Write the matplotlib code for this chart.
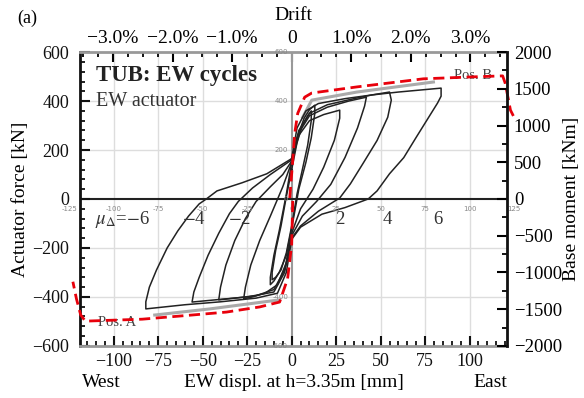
import matplotlib
matplotlib.use("Agg")
import matplotlib.pyplot as plt
from matplotlib.ticker import MultipleLocator, FuncFormatter

plt.rcParams['font.family'] = ['Liberation Serif', 'DejaVu Serif']
plt.rcParams['mathtext.fontset'] = 'stix'

# ---------------- data (displacement mm, force kN) ----------------
env_b_x = [-1.1, 0.6, 1.7, 3.4, 7.3, 11.3, 36.7, 74, 102, 118.6, 120, 123, 125]
env_b_y = [4, 157, 268, 350, 416, 433, 458, 491, 499, 503, 474, 363, 334]
env_a_x = [0.6, 0, -2.3, -6.8, -18, -36.7, -56, -84, -116, -118.6, -121, -123]
env_a_y = [-8, -186, -326, -421, -441, -462, -474, -491, -499, -474, -408, -338]

gray_b_x = [6.2, 11.3, 36.7, 79.7]
gray_b_y = [334, 404, 437, 478]
gray_a_x = [-6.8, -46, -77]
gray_a_y = [-412, -449, -474]

mu1a_x = [0, 3, 7, 10, 13, 13, 11, 8, 4, 0, -3, -7, -10, -12, -12, -10, -7, -3, 0]
mu1a_y = [150, 250, 330, 365, 383, 350, 250, 150, 40, -120, -230, -300, -335, -350, -320, -230, -130, 20, 150]
mu1b_x = [0, 3, 6, 9, 11, 11, 9, 6, 3, 0, -3, -6, -9, -11, -11, -9, -6, -3, 0]
mu1b_y = [120, 230, 300, 340, 360, 320, 220, 120, 20, -110, -220, -290, -320, -330, -300, -210, -110, 10, 120]
mu2_x = [0, 4, 10, 18, 27, 27, 24, 18, 12, 5, 0, -3, -8, -15, -22, -27, -26, -23, -18, -12, -5, 0]
mu2_y = [150, 260, 320, 345, 363, 330, 240, 130, 40, -40, -140, -260, -350, -385, -400, -408, -360, -270, -170, -70, 50, 150]
mu3_x = [0, 4, 10, 20, 32, 42, 41, 37, 30, 22, 14, 6, 0, -4, -10, -20, -32, -41, -40, -37, -32, -26, -20, -12, -5, 0]
mu3_y = [155, 270, 340, 375, 400, 416, 380, 290, 170, 60, -10, -70, -150, -290, -370, -395, -405, -412, -360, -270, -170, -80, -10, 50, 100, 155]
mu4_x = [0, 4, 10, 20, 35, 45, 55, 56, 54, 48, 40, 33, 27, 15, 5, 0, -4, -10, -25, -40, -56, -55, -52, -47, -41, -35, -30, -22, -12, 0]
mu4_y = [160, 280, 350, 385, 410, 425, 437, 404, 334, 239, 144, 62, 4, -50, -110, -160, -300, -380, -400, -410, -421, -380, -320, -230, -140, -60, -10, 45, 100, 160]
mu6_x = [0, 3, 8, 15, 30, 45, 60, 72, 84, 84, 82, 76, 70, 63, 55, 48, 43, 30, 17, 5, 0, -3, -8, -20, -40, -60, -82, -82, -80, -76, -70, -64, -58, -52, -48, -42, -28, -14, 0]
mu6_y = [165, 290, 360, 390, 410, 425, 437, 445, 453, 420, 392, 322, 252, 169, 103, 33, 0, -35, -62, -115, -165, -300, -385, -405, -420, -432, -449, -420, -360, -290, -200, -130, -70, -20, 0, 33, 66, 103, 165]

loops = [(mu1a_x, mu1a_y), (mu1b_x, mu1b_y), (mu2_x, mu2_y), (mu3_x, mu3_y),
         (mu4_x, mu4_y), (mu6_x, mu6_y)]

inner_x_ticks = [-125, -100, -75, -50, -25, 0, 25, 50, 75, 100, 125]
inner_y_labels = [600, 400, 200, 0, -400, -600]
grid_x = [-100, -75, -50, -25, 25, 50, 75, 100]
grid_y = [-400, -200, 200, 400]

bottom_ticks = [-100, -75, -50, -25, 0, 25, 50, 75, 100]
drift_ticks = [-3, -2, -1, 0, 1, 2, 3]
left_ticks = [-600, -400, -200, 0, 200, 400, 600]
right_ticks = [-2000, -1500, -1000, -500, 0, 500, 1000, 1500, 2000]
mu_labels = [(-95, '$\\mu_{\\Delta}$=$-$6'), (-55, '$-$4'), (-29, '$-$2'), (27, '2'), (54, '4'), (82, '6')]
height_mm = 3350.0

# ---------------- figure ----------------
fig = plt.figure(figsize=(5.84, 3.98), dpi=100)
ax = fig.add_axes([0.137, 0.131, 0.731, 0.738])
ax.set_xlim(-119, 121)
ax.set_ylim(-600, 600)

for gx in grid_x:
    ax.axvline(gx, color='#dddddd', lw=1.0, zorder=0)
for gy in grid_y:
    ax.axhline(gy, color='#dddddd', lw=1.0, zorder=0)
ax.axvline(0, color='#999999', lw=1.5, zorder=1)
ax.axhline(0, color='#222222', lw=1.5, zorder=1)

for lx, ly in loops:
    ax.plot(lx, ly, color='#222222', lw=1.1, zorder=3)

ax.plot(gray_b_x, gray_b_y, color='#aaaaaa', lw=2.2, zorder=2)
ax.plot(gray_a_x, gray_a_y, color='#aaaaaa', lw=2.2, zorder=2)
ax.plot(env_b_x, env_b_y, color='#e8000b', lw=2.0, ls=(0, (4, 2)), zorder=4, clip_on=False)
ax.plot(env_a_x, env_a_y, color='#e8000b', lw=2.0, ls=(0, (4, 2)), zorder=4, clip_on=False)

# inner small grey labels
for v in inner_x_ticks:
    ax.text(v, -40, str(v), fontsize=5, color='#888888', ha='center', va='center',
            family='DejaVu Sans', clip_on=False)
for v in inner_y_labels:
    ax.text(-2, v, str(v), fontsize=5, color='#888888', ha='right', va='center',
            family='DejaVu Sans', clip_on=False)

# ticks
ax.set_xticks(bottom_ticks)
ax.xaxis.set_minor_locator(MultipleLocator(5))
ax.set_yticks(left_ticks)
ax.yaxis.set_minor_locator(MultipleLocator(40))
ax.tick_params(axis='both', which='major', direction='in', length=7, width=1.5,
               labelsize=13, colors='#111111')
ax.tick_params(axis='both', which='minor', direction='in', length=3.5, width=1.3, colors='#111111')
ax.tick_params(axis='x', pad=5)
ax.tick_params(axis='y', pad=8)

ax.spines['left'].set_color('#111111'); ax.spines['left'].set_linewidth(2.0)
for s in ['top', 'bottom']:
    ax.spines[s].set_color('#999999'); ax.spines[s].set_linewidth(2.0)
ax.spines['right'].set_visible(False)

ax.set_ylabel('Actuator force [kN]', fontsize=14, labelpad=2)
ax.text(0.50, -0.125, 'EW displ. at h=3.35m [mm]', transform=ax.transAxes, fontsize=14,
        ha='center', va='center')
ax.text(0.05, -0.125, 'West', transform=ax.transAxes, fontsize=14, ha='center', va='center')
ax.text(0.96, -0.125, 'East', transform=ax.transAxes, fontsize=14, ha='center', va='center')

# right axis
ax2 = ax.twinx()
ax2.set_ylim(-2000, 2000)
ax2.set_yticks(right_ticks)
ax2.yaxis.set_minor_locator(MultipleLocator(250))
ax2.tick_params(axis='y', which='major', direction='in', length=7, width=1.5, labelsize=13.5, pad=5)
ax2.tick_params(axis='y', which='minor', direction='in', length=3.5, width=1.3)
ax2.spines['right'].set_color('#111111'); ax2.spines['right'].set_linewidth(2.0)
for s in ['top', 'bottom', 'left']:
    ax2.spines[s].set_visible(False)
ax2.set_ylabel('Base moment [kNm]', fontsize=14, labelpad=1)

# top drift axis
def mm2drift(x):
    return x / height_mm * 100.0
def drift2mm(d):
    return d * height_mm / 100.0
secx = ax.secondary_xaxis('top', functions=(mm2drift, drift2mm))
secx.set_xticks(drift_ticks)
secx.xaxis.set_minor_locator(MultipleLocator(0.25))
secx.xaxis.set_major_formatter(FuncFormatter(lambda v, p: '0' if abs(v) < 1e-9 else ('%.1f%%' % v).replace('-', '\u2212')))
secx.tick_params(which='major', direction='in', length=7, width=1.5, labelsize=14, pad=4)
secx.tick_params(which='minor', direction='in', length=3.5, width=1.3)
secx.spines['top'].set_visible(False)
secx.set_xlabel('Drift', fontsize=14, labelpad=7)

# annotations
ax.text(-110, 505, 'TUB: EW cycles', fontsize=16.5, fontweight='bold', color='#222222', va='center')
ax.text(-110, 400, 'EW actuator', fontsize=14.5, color='#333333', va='center')
ax.text(102, 505, 'Pos. B', fontsize=10.5, color='#444444', ha='center', va='center')
ax.text(-98, -503, 'Pos. A', fontsize=10.5, color='#444444', ha='center', va='center')
for mx, lab in mu_labels:
    ax.text(mx, -82, lab, fontsize=13.5, color='#333333', ha='center', va='center')

fig.text(0.03, 0.955, '(a)', fontsize=13, ha='left', va='center')

fig.savefig('out.png', dpi=100)
